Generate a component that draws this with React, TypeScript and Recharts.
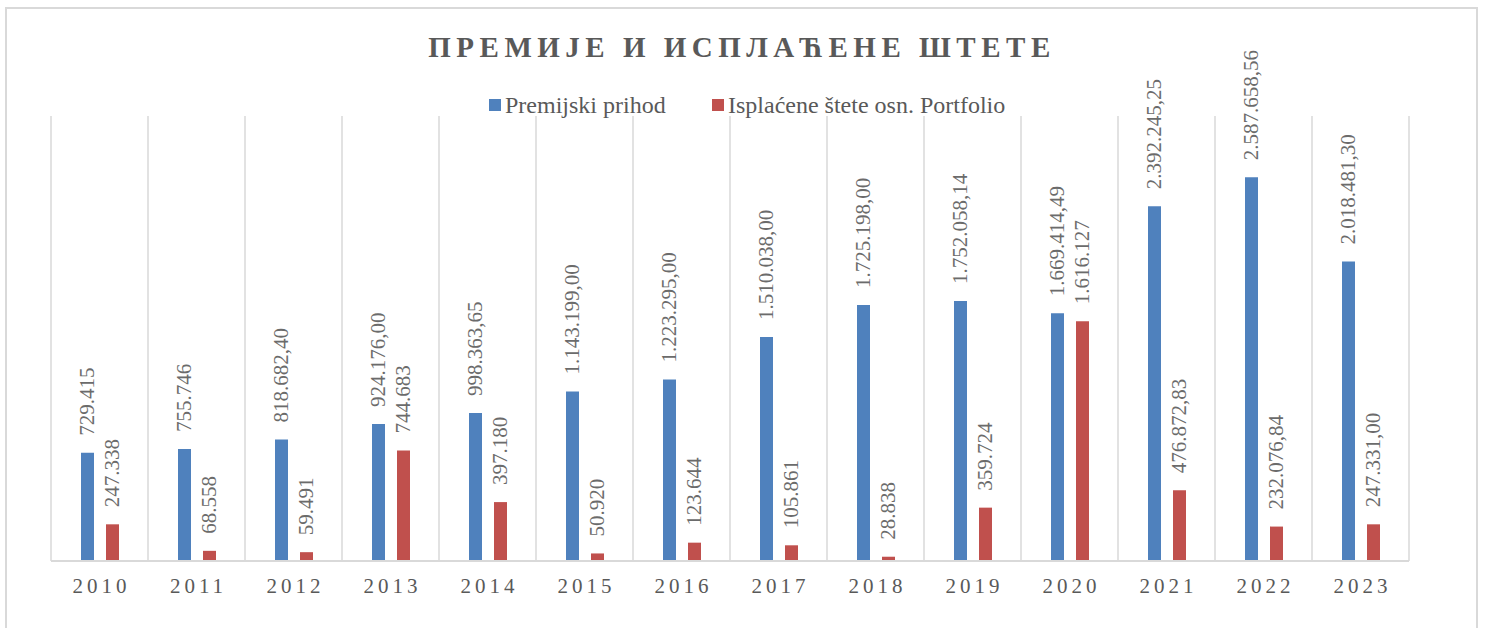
import React from "react";
import { BarChart, Bar, XAxis, YAxis, CartesianGrid, LabelList } from "recharts";

const years = ["2010", "2011", "2012", "2013", "2014", "2015", "2016", "2017", "2018", "2019", "2020", "2021", "2022", "2023"];
const premiumValues = [729415, 755746, 818682.4, 924176.0, 998363.65, 1143199.0, 1223295.0, 1510038.0, 1725198.0, 1752058.14, 1669414.49, 2392245.25, 2587658.56, 2018481.3];
const premiumDecimals = [0, 0, 2, 2, 2, 2, 2, 2, 2, 2, 2, 2, 2, 2];
const claimsValues = [247338, 68558, 59491, 744683, 397180, 50920, 123644, 105861, 28838, 359724, 1616127, 476872.83, 232076.84, 247331.0];
const claimsDecimals = [0, 0, 0, 0, 0, 0, 0, 0, 0, 0, 0, 2, 2, 2];
const seriesNames = ["Premijski prihod", "Isplaćene štete osn. Portfolio"];
const seriesColors = ["#4f81bd", "#c0504d"];
const title = "ПРЕМИЈЕ И ИСПЛАЋЕНЕ ШТЕТЕ";

const fmt = (v: number, dec: number) => {
  const fixed = v.toFixed(dec);
  const [intPart, decPart] = fixed.split(".");
  const withSep = intPart.replace(/\B(?=(\d{3})+(?!\d))/g, ".");
  return decPart ? `${withSep},${decPart}` : withSep;
};

const data = years.map((y, i) => ({
  year: y,
  premium: premiumValues[i],
  claims: claimsValues[i],
  premiumLabel: fmt(premiumValues[i], premiumDecimals[i]),
  claimsLabel: fmt(claimsValues[i], claimsDecimals[i]),
}));

const FONT = "'Liberation Serif', 'Times New Roman', serif";
const TEXT = "#595959";
const LABEL = "#6b6b6b";
const GRID = "#d9d9d9";

const RotLabel = (props: any) => {
  const { x, y, width, value } = props;
  const cx = x + width / 2;
  const ty = y - 17;
  return (
    <text
      x={cx}
      y={ty}
      transform={`rotate(-90, ${cx}, ${ty})`}
      textAnchor="start"
      dominantBaseline="central"
      fontFamily={FONT}
      fontSize={21}
      fill={LABEL}
    >
      {value}
    </text>
  );
};

const XTick = (props: any) => {
  const { x, y, payload } = props;
  return (
    <text x={x + 2} y={y + 24} textAnchor="middle" fontFamily={FONT} fontSize={21} fill={TEXT} letterSpacing={4}>
      {payload.value}
    </text>
  );
};

export default function App() {
  const n = years.length;
  return (
    <div style={{ position: "absolute", left: 0, top: 0, width: 1485, height: 628, overflow: "hidden", background: "#fff" }}>
      <div
        style={{
          position: "absolute",
          left: 5,
          top: 7,
          width: 1473,
          height: 650,
          border: `2px solid ${GRID}`,
          boxSizing: "border-box",
        }}
      />
      <div style={{ position: "absolute", left: 0, top: 0 }}>
        <BarChart
          width={1485}
          height={628}
          data={data}
          margin={{ top: 116, right: 76, bottom: 27, left: 51 }}
          barSize={13}
          barGap={12}
        >
          <CartesianGrid
            horizontal={false}
            stroke={GRID}
            strokeWidth={1.5}
            verticalCoordinatesGenerator={({ offset }: any) => {
              const pts: number[] = [];
              for (let i = 0; i <= n; i++) pts.push(offset.left + (i * offset.width) / n);
              return pts;
            }}
          />
          <XAxis
            dataKey="year"
            height={40}
            axisLine={{ stroke: GRID, strokeWidth: 2 }}
            tickLine={false}
            tick={<XTick />}
            interval={0}
          />
          <YAxis hide domain={[0, 3000000]} />
          <Bar dataKey="premium" fill={seriesColors[0]} isAnimationActive={false}>
            <LabelList dataKey="premiumLabel" content={<RotLabel />} />
          </Bar>
          <Bar dataKey="claims" fill={seriesColors[1]} isAnimationActive={false}>
            <LabelList dataKey="claimsLabel" content={<RotLabel />} />
          </Bar>
        </BarChart>
      </div>
      <svg width={1485} height={628} style={{ position: "absolute", left: 0, top: 0, pointerEvents: "none" }}>
        <text x={742} y={57} textAnchor="middle" fontFamily={FONT} fontWeight="bold" fontSize={29} letterSpacing={5.5} fill={TEXT}>
          {title}
        </text>
        <rect x={489} y={99} width={12} height={12} fill={seriesColors[0]} />
        <text x={505} y={113} fontFamily={FONT} fontSize={24} fill={TEXT}>
          {seriesNames[0]}
        </text>
        <rect x={712} y={99} width={12} height={12} fill={seriesColors[1]} />
        <text x={728} y={113} fontFamily={FONT} fontSize={24} fill={TEXT}>
          {seriesNames[1]}
        </text>
      </svg>
    </div>
  );
}
